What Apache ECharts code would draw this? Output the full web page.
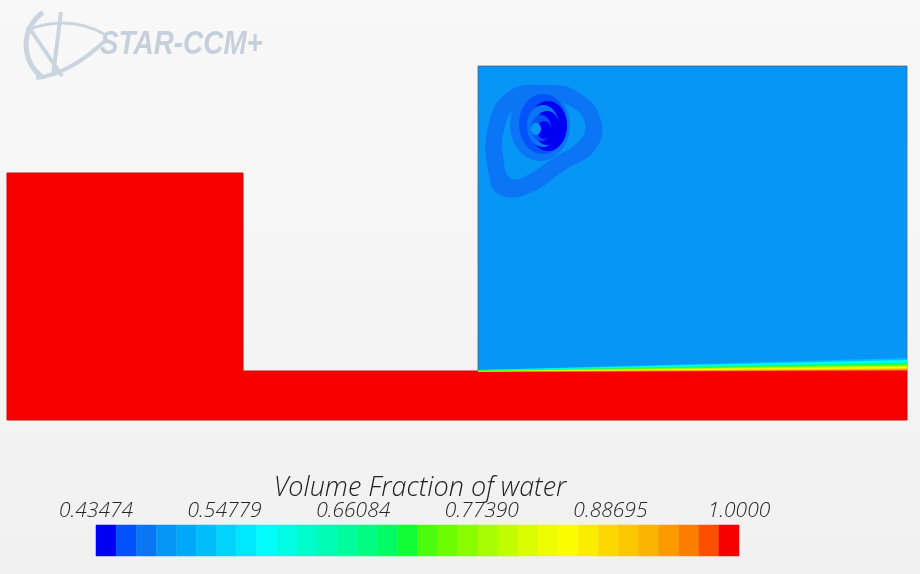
<!DOCTYPE html>
<html>
<head>
<meta charset="utf-8">
<script src="https://cdn.jsdelivr.net/npm/echarts@6/dist/echarts.min.js"></script>
<style>
html,body{margin:0;padding:0;background:#f4f4f4;}
#chart{width:920px;height:574px;}
</style>
</head>
<body>
<div id="chart"></div>
<script>
// ---- scale of the scalar field (Volume Fraction of water) ----
const FIELD_MIN = 0.43474;
const FIELD_MAX = 1.0;
const levelColors = [
  '#0000f2','#0052fa','#0a76f6','#0896f6','#00a8fc','#00befc','#00d4fc','#00e8fc',
  '#00fcfc','#00fce4','#00fccc','#00fcb4','#00fc9c','#00fc82','#00fc62','#12fc36',
  '#4cfc0e','#6cfc00','#8afc00','#a6fc00','#c2fc00','#dafc00','#eefc00','#fcfc00',
  '#fcec00','#fcd800','#fcc600','#fcb200','#fc9a00','#fc7e00','#fc5000','#f70000'
];
const tickValues = [0.43474, 0.54779, 0.66084, 0.77390, 0.88695, 1.0];
const tickLabels = ['0.43474', '0.54779', '0.66084', '0.77390', '0.88695', '1.0000'];
const colorbarTitle = 'Volume Fraction of water';

// ---- domain geometry (metres) and field values ----
const waterPoly   = [[0,0],[0,2.47],[2.36,2.47],[2.36,0.49],[9.0,0.49],[9.0,0]];
const tankPoly    = [[4.71,0.49],[4.71,3.54],[9.0,3.54],[9.0,0.49]];
const vortexOuter = [[4.81,2.93],[5.01,3.28],[5.38,3.35],[5.71,3.28],[5.94,3.00],[5.88,2.70],
                     [5.58,2.50],[5.23,2.27],[4.93,2.25],[4.82,2.45]];
const vortexInner = [[4.97,2.90],[5.11,3.14],[5.38,3.20],[5.63,3.14],[5.78,2.97],[5.71,2.78],
                     [5.46,2.62],[5.17,2.43],[5.03,2.42],[4.97,2.58]];
const regionPolys  = [waterPoly, tankPoly, vortexOuter, vortexInner];
const regionVF     = [1.0, 0.497, 0.478, 0.497];

// vortex core contours: [volume fraction, cx, cy, rx, ry]
const vortexRings = [
  [0.478, 5.33, 2.95, 0.30, 0.36],
  [0.461, 5.36, 2.96, 0.24, 0.30],
  [0.440, 5.41, 2.94, 0.19, 0.25],
  [0.478, 5.36, 2.94, 0.16, 0.21],
  [0.440, 5.40, 2.92, 0.13, 0.17],
  [0.461, 5.34, 2.92, 0.10, 0.13],
  [0.440, 5.37, 2.90, 0.07, 0.09],
  [0.497, 5.29, 2.91, 0.05, 0.06]
];

// free-surface layers in the tank: [volume fraction, top at left wall, top at right wall]
const interfaceBands = [
  [0.532, 0.500, 0.620],
  [0.585, 0.500, 0.600],
  [0.656, 0.497, 0.578],
  [0.726, 0.494, 0.560],
  [0.797, 0.491, 0.545],
  [0.850, 0.488, 0.532],
  [0.903, 0.485, 0.518],
  [0.956, 0.483, 0.506],
  [1.000, 0.480, 0.495]
];
const TANK_X0 = 4.71, TANK_X1 = 9.0, BAND_BASE = 0.46;

// ---- derived structures for the library ----
const nLev = levelColors.length;
const step = (FIELD_MAX - FIELD_MIN) / nLev;
const pieces = levelColors.map((c, i) => i === nLev - 1
  ? { gte: FIELD_MIN + i * step, lte: FIELD_MAX + 1e-6, color: c }
  : { gte: FIELD_MIN + i * step, lt: FIELD_MIN + (i + 1) * step, color: c });
const colorbarData = levelColors.map((c, i) =>
  [FIELD_MIN + (i + 0.5) * step, FIELD_MIN + i * step, FIELD_MIN + (i + 1) * step]);

const regionStroke = ['#d00808', 'rgba(80,92,110,0.75)', null, null];
const regionSmooth = [0, 0, 0.45, 0.45];

const chart = echarts.init(document.getElementById('chart'), null, { renderer: 'canvas' });

const option = {
  backgroundColor: {
    type: 'linear', x: 0, y: 0, x2: 0, y2: 1,
    colorStops: [{ offset: 0, color: '#f8f8f8' }, { offset: 1, color: '#f1f1f1' }]
  },
  animation: false,
  grid: [
    { left: 7, right: 13, top: 66, bottom: 154 },
    { left: 96, width: 643, top: 525, height: 31 }
  ],
  xAxis: [
    { gridIndex: 0, type: 'value', min: 0, max: 9.0, show: false },
    {
      gridIndex: 1, type: 'value', min: FIELD_MIN, max: FIELD_MAX, position: 'top',
      axisLine: { show: false }, axisTick: { show: false }, splitLine: { show: false },
      axisLabel: {
        customValues: tickValues,
        formatter: function (v) {
          let k = 0, best = Infinity;
          tickValues.forEach((t, i) => { const d = Math.abs(t - v); if (d < best) { best = d; k = i; } });
          return tickLabels[k];
        },
        margin: 3,
        fontSize: 21, fontStyle: 'italic', fontWeight: 300,
        fontFamily: 'Open Sans', color: '#262626',
        showMinLabel: true, showMaxLabel: true, hideOverlap: false
      }
    }
  ],
  yAxis: [
    { gridIndex: 0, type: 'value', min: 0, max: 3.54, show: false },
    { gridIndex: 1, type: 'value', min: 0, max: 1, show: false }
  ],
  visualMap: {
    type: 'piecewise', show: false, dimension: 0, seriesIndex: [0, 1, 2, 3], pieces: pieces
  },
  graphic: [
    {
      type: 'group', silent: true, children: [
        { type: 'arc', shape: { cx: 66, cy: 45, r: 40, startAngle: 2.2, endAngle: 4.1 },
          style: { stroke: '#cbd5e0', lineWidth: 5, fill: null } },
        { type: 'line', shape: { x1: 28, y1: 26, x2: 62, y2: 76 },
          style: { stroke: '#cbd5e0', lineWidth: 4 } },
        { type: 'line', shape: { x1: 61, y1: 12, x2: 53, y2: 76 },
          style: { stroke: '#cbd5e0', lineWidth: 4 } },
        { type: 'bezierCurve', shape: { x1: 36, y1: 78, cpx1: 70, cpy1: 74, x2: 106, y2: 40 },
          style: { stroke: '#cbd5e0', lineWidth: 4, fill: null } },
        { type: 'bezierCurve', shape: { x1: 26, y1: 30, cpx1: 70, cpy1: 14, x2: 104, y2: 34 },
          style: { stroke: '#cbd5e0', lineWidth: 3, fill: null } },
        { type: 'text', x: 100, y: 45, scaleX: 0.82,
          style: { text: 'STAR-CCM+', fill: '#c6d0dc',
            font: 'italic bold 34px "Liberation Sans", sans-serif',
            textVerticalAlign: 'middle' } }
      ]
    },
    {
      type: 'text', x: 420, y: 488, silent: true,
      style: { text: colorbarTitle, fill: '#222',
        font: 'italic 300 27px "Open Sans", sans-serif',
        textAlign: 'center', textVerticalAlign: 'middle' }
    }
  ],
  series: [
    {
      type: 'custom', xAxisIndex: 0, yAxisIndex: 0,
      data: regionVF.map((v, i) => [v, i]),
      renderItem: function (params, api) {
        const idx = params.dataIndex;
        const pts = regionPolys[idx].map(p => api.coord(p));
        return {
          type: 'polygon',
          shape: { points: pts, smooth: regionSmooth[idx] },
          style: { fill: api.visual('color'), stroke: regionStroke[idx], lineWidth: regionStroke[idx] ? 1 : 0 }
        };
      }
    },
    {
      type: 'custom', xAxisIndex: 0, yAxisIndex: 0,
      data: vortexRings,
      renderItem: function (params, api) {
        const c = api.coord([api.value(1), api.value(2)]);
        const s = api.size([api.value(3), api.value(4)]);
        return {
          type: 'ellipse',
          shape: { cx: c[0], cy: c[1], rx: s[0], ry: s[1] },
          style: { fill: api.visual('color') }
        };
      }
    },
    {
      type: 'custom', xAxisIndex: 0, yAxisIndex: 0,
      data: interfaceBands,
      renderItem: function (params, api) {
        const pts = [
          api.coord([TANK_X0, api.value(1)]),
          api.coord([TANK_X1, api.value(2)]),
          api.coord([TANK_X1, BAND_BASE]),
          api.coord([TANK_X0, BAND_BASE])
        ];
        return { type: 'polygon', shape: { points: pts }, style: { fill: api.visual('color') } };
      }
    },
    {
      type: 'custom', xAxisIndex: 1, yAxisIndex: 1,
      data: colorbarData,
      renderItem: function (params, api) {
        const p0 = api.coord([api.value(1), 1]);
        const p1 = api.coord([api.value(2), 0]);
        const col = api.visual('color');
        return {
          type: 'rect',
          shape: { x: p0[0], y: p0[1], width: p1[0] - p0[0], height: p1[1] - p0[1] },
          style: { fill: col, stroke: col, lineWidth: 0.5 }
        };
      }
    }
  ]
};
chart.setOption(option);
</script>
</body>
</html>
